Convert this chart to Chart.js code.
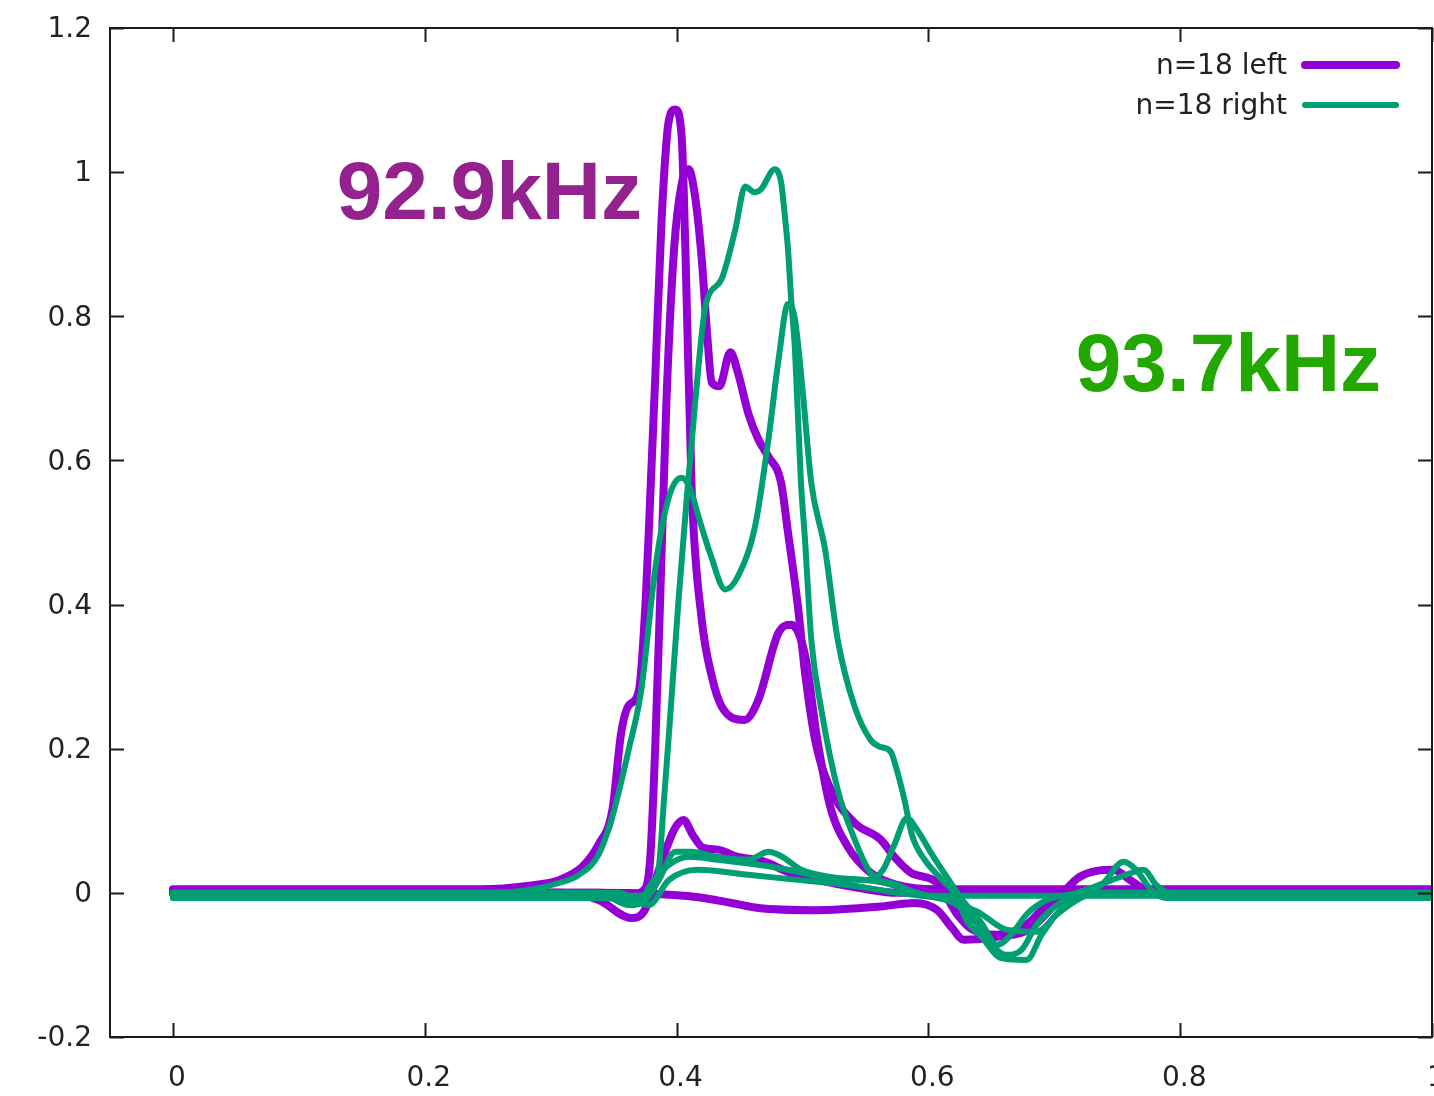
<!DOCTYPE html>
<html>
<head>
<meta charset="utf-8">
<script src="https://cdn.jsdelivr.net/npm/chart.js@4.4.0/dist/chart.umd.min.js"></script>
<style>
    html, body { margin: 0; padding: 0; background: #ffffff; overflow: hidden; }
    #pulse_chart { display: block; }
</style>
</head>
<body>
<canvas id="pulse_chart" width="1434" height="1096"></canvas>
<script>
// axis ticks
const x_ticks = [0, 0.2, 0.4, 0.6, 0.8, 1];
const y_ticks = [-0.2, 0, 0.2, 0.4, 0.6, 0.8, 1, 1.2];

const left_label = "n=18 left";
const right_label = "n=18 right";

// n=18 left curves (purple)
const left_a_x = [0, 0.244, 0.283, 0.307, 0.325, 0.338, 0.349, 0.356, 0.362, 0.370, 0.3755, 0.379, 0.383, 0.388, 0.3937, 0.399, 0.404, 0.407, 0.412, 0.420, 0.428, 0.436, 0.454, 0.465, 0.481, 0.491, 0.502, 0.512, 0.522, 0.536, 0.554, 0.575, 0.607, 1.0];
const left_a_y = [0.005, 0.005, 0.01, 0.018, 0.036, 0.067, 0.115, 0.222, 0.26, 0.28, 0.407, 0.546, 0.712, 0.93, 1.07, 1.087, 1.05, 0.893, 0.56, 0.379, 0.30, 0.258, 0.24, 0.268, 0.361, 0.372, 0.33, 0.21, 0.12, 0.064, 0.028, 0.011, 0.005, 0.005];

const left_b_x = [0, 0.338, 0.362, 0.374, 0.379, 0.383, 0.387, 0.392, 0.398, 0.404, 0.4095, 0.415, 0.420, 0.424, 0.428, 0.434, 0.4427, 0.449, 0.457, 0.465, 0.4727, 0.483, 0.4885, 0.4964, 0.502, 0.51, 0.5225, 0.5415, 0.562, 0.573, 0.586, 0.607, 0.623, 0.635, 0.6545, 0.678, 0.694, 0.714, 0.734, 1.0];
const left_b_y = [0, 0, -0.003, 0.004, 0.046, 0.2, 0.41, 0.685, 0.893, 0.983, 1.004, 0.9625, 0.879, 0.782, 0.708, 0.703, 0.75, 0.72, 0.665, 0.629, 0.606, 0.569, 0.5, 0.397, 0.306, 0.2125, 0.143, 0.097, 0.074, 0.05, 0.028, 0.014, -0.03, -0.051, -0.058, -0.044, -0.017, 0.004, 0, 0];

const left_c_x = [0, 0.307, 0.338, 0.364, 0.374, 0.386, 0.398, 0.4055, 0.413, 0.421, 0.433, 0.4466, 0.47, 0.4885, 0.512, 0.544, 0.5755, 1.0];
const left_c_y = [0, 0, -0.01, -0.035, -0.026, 0.032, 0.0875, 0.101, 0.08, 0.0625, 0.06, 0.051, 0.043, 0.029, 0.018, 0.007, 0, 0];

const left_d_x = [0, 0.338, 0.417, 0.4435, 0.465, 0.51, 0.562, 0.589, 0.607, 0.619, 0.628, 0.6545, 0.68, 0.694, 0.7075, 0.72, 0.747, 0.76, 0.773, 0.785, 1.0];
const left_d_y = [0, 0, -0.006, -0.014, -0.021, -0.024, -0.019, -0.014, -0.024, -0.049, -0.065, -0.061, -0.051, -0.028, 0.001, 0.022, 0.032, 0.018, 0.004, 0, 0];

// n=18 right curves (green)
const right_a_x = [0, 0.37, 0.382, 0.386, 0.39, 0.394, 0.4016, 0.408, 0.415, 0.423, 0.4356, 0.4466, 0.4545, 0.462, 0.467, 0.478, 0.483, 0.486, 0.4885, 0.491, 0.494, 0.4988, 0.502, 0.507, 0.5146, 0.528, 0.5415, 0.554, 0.5755, 0.599, 1.0];
const right_a_y = [-0.004, -0.004, 0.011, 0.036, 0.129, 0.222, 0.407, 0.546, 0.685, 0.814, 0.851, 0.92, 0.98, 0.972, 0.976, 1.004, 0.986, 0.939, 0.893, 0.824, 0.754, 0.569, 0.49, 0.351, 0.258, 0.143, 0.074, 0.028, 0.011, -0.004, -0.004];

const right_b_x = [0, 0.244, 0.283, 0.307, 0.3225, 0.338, 0.349, 0.362, 0.372, 0.382, 0.388, 0.396, 0.404, 0.411, 0.4174, 0.427, 0.4387, 0.449, 0.4625, 0.473, 0.481, 0.4885, 0.494, 0.5, 0.507, 0.518, 0.528, 0.5415, 0.554, 0.561, 0.57, 0.5755, 0.581, 0.587, 0.597, 0.611, 0.6205, 0.631, 0.643, 0.657, 0.678, 0.69, 0.706, 0.722, 1.0];
const right_b_y = [0, 0, 0.004, 0.014, 0.025, 0.053, 0.106, 0.199, 0.282, 0.435, 0.504, 0.56, 0.576, 0.56, 0.522, 0.469, 0.421, 0.44, 0.51, 0.63, 0.74, 0.817, 0.796, 0.699, 0.569, 0.476, 0.351, 0.258, 0.2125, 0.203, 0.196, 0.167, 0.129, 0.08, 0.046, 0.018, 0, -0.04, -0.0625, -0.09, -0.093, -0.058, -0.021, 0, 0];

const right_c_x = [0, 0.338, 0.37, 0.382, 0.394, 0.41, 0.433, 0.465, 0.4885, 0.52, 0.552, 0.564, 0.573, 0.583, 0.591, 0.603, 0.615, 0.627, 0.643, 0.6545, 0.662, 0.674, 0.686, 0.702, 0.718, 0.7375, 0.755, 0.765, 0.777, 0.789, 1.0];
const right_c_y = [-0.007, -0.007, -0.01, 0.018, 0.039, 0.05, 0.046, 0.039, 0.032, 0.021, 0.018, 0.032, 0.067, 0.104, 0.0875, 0.053, 0.021, -0.01, -0.044, -0.079, -0.086, -0.079, -0.044, -0.017, 0, 0.011, 0.043, 0.032, 0.004, -0.007, -0.007];

const right_d_x = [0, 0.338, 0.362, 0.374, 0.386, 0.399, 0.412, 0.431, 0.457, 0.473, 0.483, 0.499, 0.5225, 0.562, 0.591, 0.623, 0.6466, 0.6545, 0.666, 0.678, 0.694, 0.718, 0.7415, 0.757, 0.771, 0.781, 0.793, 1.0];
const right_d_y = [0, 0, -0.017, -0.0125, 0.018, 0.057, 0.057, 0.05, 0.046, 0.057, 0.051, 0.032, 0.022, 0.015, 0, -0.017, -0.058, -0.072, -0.058, -0.03, -0.01, 0, 0.015, 0.025, 0.032, 0.011, 0, 0];

const right_e_x = [0, 0.354, 0.378, 0.394, 0.417, 0.457, 0.496, 0.536, 0.5755, 0.615, 0.639, 0.662, 0.686, 0.702, 0.718, 0.734, 1.0];
const right_e_y = [0, 0, -0.017, 0.018, 0.032, 0.025, 0.018, 0.011, 0, -0.01, -0.026, -0.051, -0.054, -0.03, -0.01, 0, 0];

// text labels placed in data coordinates
const note_texts = ["92.9kHz", "93.7kHz"];
const note_x = [0.130, 0.717];
const note_y = [0.935, 0.697];

const left_color = "#9400d3";
const right_color = "#009e73";
const note_colors = ["#93228f", "#22a800"];

function to_points(xs, ys) {
    return xs.map((x, i) => ({x: x, y: ys[i]}));
}

function tick_text(v) {
    return String(Math.round(v * 10) / 10);
}

function make_dataset(label, xs, ys, color, width, order) {
    return {
        label: label,
        data: to_points(xs, ys),
        borderColor: color,
        backgroundColor: color,
        borderWidth: width,
        pointRadius: 0,
        fill: false,
        cubicInterpolationMode: 'monotone',
        borderJoinStyle: 'round',
        borderCapStyle: 'round',
        order: order
    };
}

const datasets = [
    make_dataset(left_label, left_a_x, left_a_y, left_color, 8, 1),
    make_dataset(left_label, left_b_x, left_b_y, left_color, 8, 1),
    make_dataset(left_label, left_c_x, left_c_y, left_color, 8, 1),
    make_dataset(left_label, left_d_x, left_d_y, left_color, 8, 1),
    make_dataset(right_label, right_a_x, right_a_y, right_color, 6, 0),
    make_dataset(right_label, right_b_x, right_b_y, right_color, 6, 0),
    make_dataset(right_label, right_c_x, right_c_y, right_color, 6, 0),
    make_dataset(right_label, right_d_x, right_d_y, right_color, 6, 0),
    make_dataset(right_label, right_e_x, right_e_y, right_color, 6, 0),
];

// gnuplot like frame with inward ticks, tick labels, legend and the two big labels
const frame_plugin = {
    id: 'frame_plugin',
    afterDraw(chart) {
        const ctx = chart.ctx;
        const area = chart.chartArea;
        const x_scale = chart.scales.x;
        const y_scale = chart.scales.y;
        const tick_len = 14;
        ctx.save();
        ctx.strokeStyle = "#1a1a1a";
        ctx.lineWidth = 2;
        ctx.strokeRect(area.left, area.top, area.right - area.left, area.bottom - area.top);
        ctx.beginPath();
        x_ticks.forEach((v) => {
            const px = Math.round(x_scale.getPixelForValue(v)) + 0.5;
            ctx.moveTo(px, area.bottom);
            ctx.lineTo(px, area.bottom - tick_len);
            ctx.moveTo(px, area.top);
            ctx.lineTo(px, area.top + tick_len);
        });
        y_ticks.forEach((v) => {
            const py = Math.round(y_scale.getPixelForValue(v)) + 0.5;
            ctx.moveTo(area.left, py);
            ctx.lineTo(area.left + tick_len, py);
            ctx.moveTo(area.right, py);
            ctx.lineTo(area.right - tick_len, py);
        });
        ctx.stroke();

        // tick labels
        ctx.font = "28px 'DejaVu Sans'";
        ctx.fillStyle = "#222222";
        ctx.textAlign = "center";
        ctx.textBaseline = "middle";
        x_ticks.forEach((v) => {
            ctx.fillText(tick_text(v), x_scale.getPixelForValue(v) + 4, area.bottom + 42);
        });
        ctx.textAlign = "right";
        y_ticks.forEach((v) => {
            ctx.fillText(tick_text(v), area.left - 18, y_scale.getPixelForValue(v) + 2);
        });

        // legend: one row per label
        const seen = [];
        chart.data.datasets.forEach((ds) => {
            if (seen.find((s) => s.label === ds.label)) return;
            seen.push({label: ds.label, color: ds.borderColor, width: ds.borderWidth});
        });
        seen.forEach((row, i) => {
            const row_y = area.top + 39 + i * 40;
            ctx.fillStyle = "#222222";
            ctx.fillText(row.label, area.right - 145, row_y);
            ctx.strokeStyle = row.color;
            ctx.lineWidth = row.width;
            ctx.lineCap = "round";
            ctx.beginPath();
            ctx.moveTo(area.right - 127, row_y - 2);
            ctx.lineTo(area.right - 36, row_y - 2);
            ctx.stroke();
        });

        // big frequency labels
        ctx.font = "bold 82px 'Liberation Sans', Arial, sans-serif";
        ctx.textAlign = "left";
        ctx.textBaseline = "alphabetic";
        note_texts.forEach((txt, i) => {
            ctx.fillStyle = note_colors[i];
            ctx.fillText(txt, x_scale.getPixelForValue(note_x[i]), y_scale.getPixelForValue(note_y[i]));
        });
        ctx.restore();
    }
};

const options_line_chart = {
    responsive: false,
    animation: false,
    layout: {autoPadding: false, padding: {top: 28, right: 2, left: 0, bottom: 0}},
    plugins: {
        legend: {display: false},
        tooltip: {enabled: false}
    },
    scales: {
        x: {
            type: 'linear',
            min: -0.05,
            max: 1.0,
            grid: {display: false, drawTicks: false},
            border: {display: false},
            ticks: {display: false, padding: 0},
            afterFit: (scale) => { scale.height = 59; }
        },
        y: {
            type: 'linear',
            min: -0.2,
            max: 1.2,
            grid: {display: false, drawTicks: false},
            border: {display: false},
            ticks: {display: false, padding: 0},
            afterFit: (scale) => { scale.width = 110; }
        }
    }
};

const ctx = document.getElementById('pulse_chart').getContext('2d');
const chart = new Chart(ctx, {
    type: 'line',
    data: {datasets: datasets},
    options: options_line_chart,
    plugins: [frame_plugin]
});
</script>
</body>
</html>
